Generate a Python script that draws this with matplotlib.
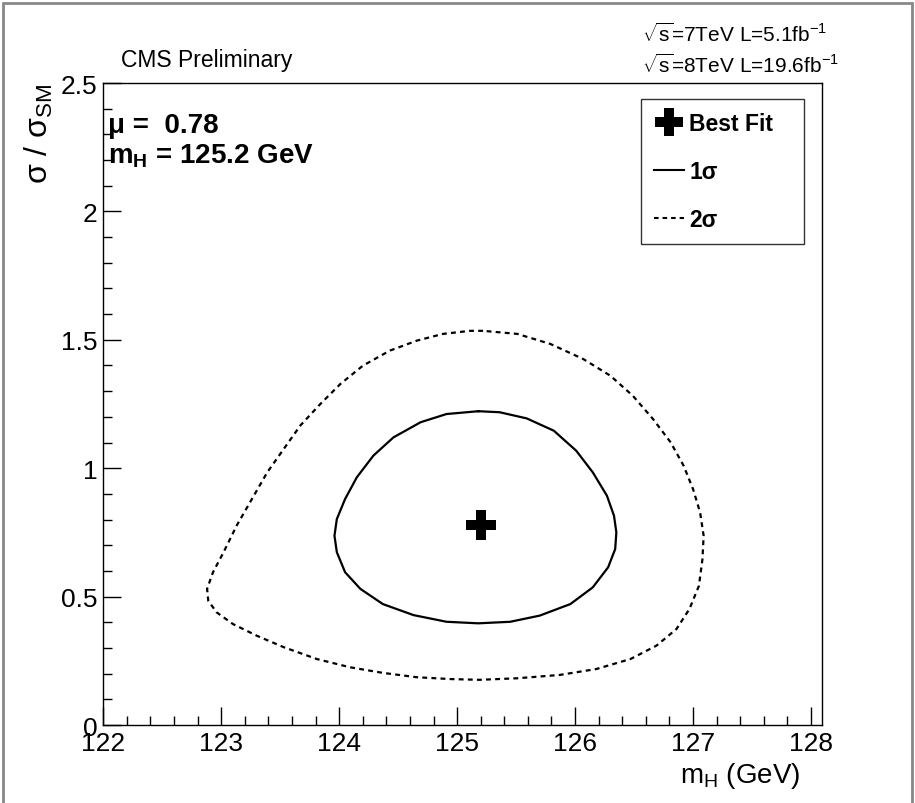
"""
Best-fit signal strength versus Higgs mass with 1 and 2 sigma contours.
"""
import matplotlib
matplotlib.use('Agg')
import matplotlib.pyplot as plt
from matplotlib.lines import Line2D
from matplotlib.patches import Rectangle
from matplotlib.ticker import MultipleLocator

plt.rcParams['font.family'] = ['Liberation Sans', 'DejaVu Sans']
plt.rcParams['mathtext.fontset'] = 'custom'
plt.rcParams['mathtext.rm'] = 'Liberation Sans'
plt.rcParams['mathtext.it'] = 'Liberation Sans:italic'
plt.rcParams['mathtext.bf'] = 'Liberation Sans:bold'

# best fit point
best_mass = 125.2
best_mu = 0.78

# 1 sigma contour (mH in GeV, sigma/sigma_SM)
one_sigma_mass = [125.18, 124.91, 124.69, 124.46, 124.29, 124.15, 124.05,
                  123.98, 123.96, 123.98, 124.05, 124.18, 124.37, 124.63,
                  124.91, 125.18, 125.45, 125.70, 125.96, 126.15, 126.28,
                  126.34, 126.35, 126.33, 126.27, 126.15, 126.01, 125.82,
                  125.59, 125.36, 125.18]
one_sigma_mu = [1.222, 1.211, 1.179, 1.120, 1.049, 0.965, 0.880,
                0.802, 0.737, 0.673, 0.595, 0.530, 0.471, 0.428,
                0.402, 0.396, 0.402, 0.426, 0.471, 0.536, 0.614,
                0.685, 0.750, 0.815, 0.893, 0.984, 1.068, 1.146,
                1.194, 1.218, 1.222]

# 2 sigma contour
two_sigma_mass = [125.22, 125.11, 124.88, 124.66, 124.43, 124.20, 124.01,
                  123.84, 123.67, 123.53, 123.39, 123.26, 123.13, 123.02,
                  122.93, 122.88, 122.89, 122.96, 123.10, 123.30, 123.53,
                  123.81, 124.09, 124.37, 124.66, 124.94, 125.19, 125.51,
                  125.87, 126.18, 126.47, 126.69, 126.86, 126.97, 127.05,
                  127.08, 127.09, 127.06, 127.00, 126.92, 126.81, 126.66,
                  126.49, 126.30, 126.07, 125.79, 125.51, 125.22]
two_sigma_mu = [1.535, 1.535, 1.523, 1.497, 1.458, 1.399, 1.328,
                1.250, 1.166, 1.075, 0.984, 0.880, 0.776, 0.673,
                0.595, 0.530, 0.484, 0.439, 0.393, 0.348, 0.303,
                0.257, 0.225, 0.203, 0.186, 0.179, 0.176, 0.182,
                0.195, 0.218, 0.257, 0.309, 0.374, 0.452, 0.542,
                0.646, 0.737, 0.828, 0.919, 1.010, 1.101, 1.192,
                1.282, 1.360, 1.425, 1.484, 1.523, 1.535]

figure = plt.figure(figsize=(9.15, 8.04), dpi=100)
axes = figure.add_axes([0.1129, 0.097, 0.7850, 0.7985])

axes.plot(one_sigma_mass, one_sigma_mu, color='black', lw=1.6,
          solid_joinstyle='round')
axes.plot(two_sigma_mass, two_sigma_mu, color='black', lw=1.6,
          dashes=(2.2, 1.9))
axes.plot([best_mass], [best_mu], marker='P', color='black', ms=21, mew=0,
          ls='none')

axes.set_xlim(122, 128.09)
axes.set_ylim(0, 2.5)
axes.xaxis.set_major_locator(MultipleLocator(1))
axes.xaxis.set_minor_locator(MultipleLocator(0.2))
axes.yaxis.set_major_locator(MultipleLocator(0.5))
axes.yaxis.set_minor_locator(MultipleLocator(0.1))
axes.tick_params(which='both', direction='in', top=False, right=False,
                 labelsize=19, width=1)
axes.tick_params(which='major', length=13)
axes.tick_params(which='minor', length=6.5)
axes.tick_params(axis='x', pad=4)
axes.tick_params(axis='y', pad=4)
axes.set_yticks([0, 0.5, 1, 1.5, 2, 2.5])
axes.set_yticklabels(['0', '0.5', '1', '1.5', '2', '2.5'])
for spine in axes.spines.values():
    spine.set_linewidth(1)

axes.set_xlabel(r'm$_{\mathregular{H}}$ (GeV)', fontsize=20)
axes.xaxis.set_label_coords(0.97, -0.055, transform=axes.transAxes)
axes.xaxis.label.set_ha('right')
axes.xaxis.label.set_va('top')
axes.set_ylabel(r'σ / σ$_{\mathregular{SM}}$', fontsize=23)
axes.yaxis.set_label_coords(-0.09, 1.0, transform=axes.transAxes)
axes.yaxis.label.set_ha('right')
axes.yaxis.label.set_va('center')

axes.text(0.006, 0.935, 'μ =  0.78', transform=axes.transAxes,
          fontsize=20, fontweight='bold', va='center')
axes.text(0.006, 0.888, r'm$_{\mathbf{H}}$ = 125.2 GeV',
          transform=axes.transAxes, fontsize=20, fontweight='bold',
          va='center')

figure.text(0.132, 0.917, 'CMS Preliminary', fontsize=16.5)
figure.text(0.702, 0.948, r'$\sqrt{\mathregular{s}}$=7TeV L=5.1fb$^{-1}$',
            fontsize=15)
figure.text(0.702, 0.909, r'$\sqrt{\mathregular{s}}$=8TeV L=19.6fb$^{-1}$',
            fontsize=15)

handles = [
    Line2D([], [], marker='P', color='black', ms=20, mew=0, ls='none'),
    Line2D([], [], color='black', lw=1.5),
    Line2D([], [], color='black', lw=1.5, dashes=(2.2, 1.9)),
]
labels = ['Best Fit', '1σ', '2σ']
legend = axes.legend(handles, labels, loc='upper left',
                     bbox_to_anchor=(0.749, 0.751, 0.226, 0.224),
                     mode='expand',
                     prop={'weight': 'bold', 'size': 16.5},
                     frameon=True, fancybox=False, handlelength=1.3,
                     handletextpad=0.25, labelspacing=1.1,
                     borderpad=0.55, borderaxespad=0, markerscale=1)
legend.get_frame().set_edgecolor('black')
legend.get_frame().set_linewidth(1)

figure.add_artist(Rectangle((3 / 915, -0.01), 909 / 915, 1.005,
                            transform=figure.transFigure, fill=False,
                            edgecolor='#888888', lw=2))

figure.savefig('out.png', dpi=100)
